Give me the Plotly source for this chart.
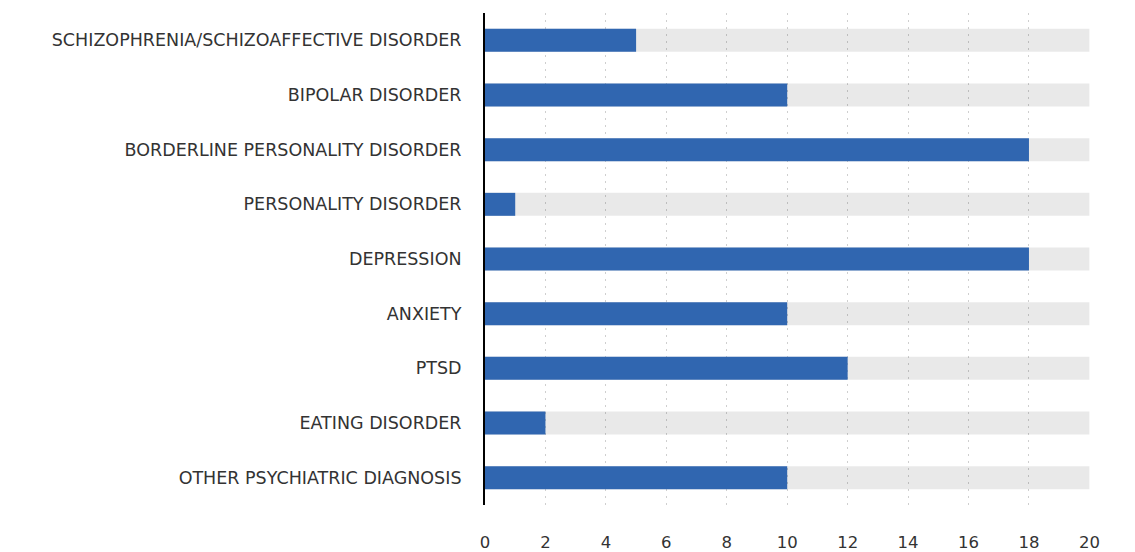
import plotly.graph_objects as go

categories = [
    "SCHIZOPHRENIA/SCHIZOAFFECTIVE DISORDER",
    "BIPOLAR DISORDER",
    "BORDERLINE PERSONALITY DISORDER",
    "PERSONALITY DISORDER",
    "DEPRESSION",
    "ANXIETY",
    "PTSD",
    "EATING DISORDER",
    "OTHER PSYCHIATRIC DIAGNOSIS",
]
values = [5, 10, 18, 1, 18, 10, 12, 2, 10]
max_value = 20
x_ticks = [0, 2, 4, 6, 8, 10, 12, 14, 16, 18, 20]

fig = go.Figure()
fig.add_trace(go.Bar(
    y=categories, x=[max_value] * len(categories), orientation="h",
    marker=dict(color="rgba(0,0,0,0.085)", line=dict(width=0)),
    width=0.42, hoverinfo="skip", showlegend=False,
))
fig.add_trace(go.Bar(
    y=categories, x=values, orientation="h",
    marker=dict(color="#3066b0", line=dict(width=0)),
    width=0.42, showlegend=False,
))

fig.update_layout(
    width=1135, height=552,
    barmode="overlay",
    plot_bgcolor="white", paper_bgcolor="white",
    margin=dict(l=485, r=45, t=13, b=47),
    font=dict(family="DejaVu Sans, sans-serif", color="#333"),
)
fig.update_xaxes(
    range=[0, 20.02], tickvals=x_ticks, ticktext=[str(t) for t in x_ticks],
    showgrid=True, gridcolor="#cfcfcf", gridwidth=1, griddash="2px,5px",
    zeroline=False, showline=False, automargin=False,
    tickfont=dict(family="DejaVu Sans", size=16.5, color="#333"),
    ticklabelstandoff=25,
)
fig.update_yaxes(
    categoryorder="array", categoryarray=categories[::-1],
    showgrid=False, zeroline=False, automargin=False,
    showline=True, linecolor="black", linewidth=2,
    tickfont=dict(family="DejaVu Sans, sans-serif", size=17.5, color="#333"),
    ticklabelstandoff=18,
)

fig.write_html("out.html")
